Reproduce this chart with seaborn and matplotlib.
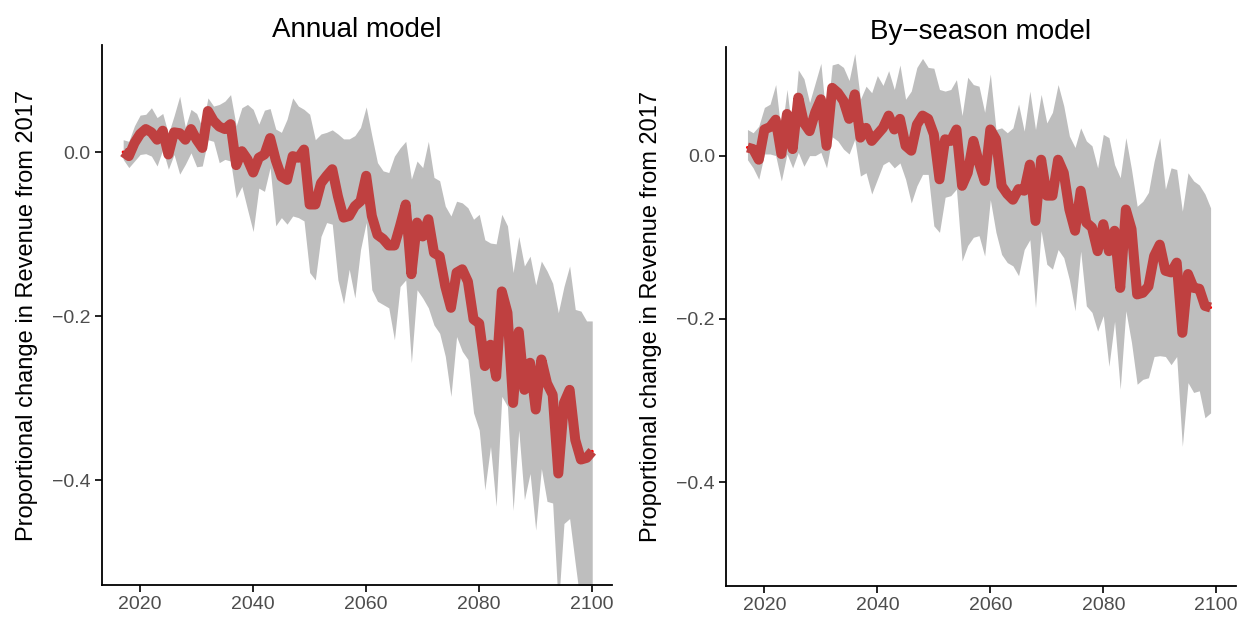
import numpy as np
import pandas as pd
import matplotlib
matplotlib.use("Agg")
import matplotlib.pyplot as plt
import seaborn as sns

# ---------------- data ----------------
years_annual = list(range(2017, 2101))
annual_mean = [
    0.000, -0.005, 0.011, 0.022, 0.028, 0.024, 0.015, 0.026, -0.003, 0.024,
    0.023, 0.015, 0.028, 0.015, 0.005, 0.050, 0.038, 0.031, 0.028, 0.034,
    -0.016, 0.001, -0.009, -0.025, -0.007, -0.003, 0.017, -0.010, -0.030, -0.034,
    -0.005, -0.007, 0.003, -0.064, -0.064, -0.038, -0.029, -0.021, -0.054, -0.080,
    -0.078, -0.066, -0.060, -0.029, -0.078, -0.101, -0.106, -0.114, -0.114, -0.090,
    -0.064, -0.149, -0.086, -0.103, -0.082, -0.123, -0.127, -0.164, -0.190, -0.147,
    -0.143, -0.158, -0.204, -0.209, -0.261, -0.235, -0.274, -0.170, -0.196, -0.306,
    -0.219, -0.290, -0.257, -0.314, -0.253, -0.282, -0.296, -0.392, -0.306, -0.290,
    -0.351, -0.375, -0.373, -0.365,
]
annual_upper = [
    0.015, 0.013, 0.032, 0.045, 0.046, 0.054, 0.042, 0.047, 0.022, 0.044,
    0.068, 0.030, 0.052, 0.047, 0.030, 0.066, 0.056, 0.058, 0.062, 0.070,
    0.032, 0.054, 0.058, 0.052, 0.034, 0.051, 0.053, 0.028, 0.024, 0.040,
    0.066, 0.056, 0.052, 0.046, 0.015, 0.022, 0.024, 0.027, 0.022, 0.016,
    0.016, 0.020, 0.030, 0.055, 0.020, -0.013, -0.023, -0.025, -0.005, 0.005,
    0.013, -0.033, -0.011, -0.019, 0.013, -0.031, -0.035, -0.066, -0.078, -0.060,
    -0.062, -0.068, -0.082, -0.076, -0.107, -0.111, -0.112, -0.076, -0.090, -0.147,
    -0.103, -0.139, -0.127, -0.162, -0.133, -0.145, -0.160, -0.196, -0.164, -0.139,
    -0.192, -0.194, -0.206, -0.206,
]
annual_lower = [
    -0.009, -0.019, -0.011, -0.003, -0.002, -0.005, -0.017, 0.003, -0.021, -0.003,
    -0.027, -0.015, -0.001, -0.018, -0.017, 0.015, 0.013, -0.013, -0.009, -0.011,
    -0.056, -0.042, -0.070, -0.097, -0.044, -0.048, -0.019, -0.090, -0.080, -0.088,
    -0.078, -0.080, -0.084, -0.147, -0.156, -0.103, -0.086, -0.088, -0.156, -0.185,
    -0.143, -0.178, -0.119, -0.086, -0.168, -0.182, -0.186, -0.190, -0.229, -0.164,
    -0.156, -0.257, -0.168, -0.178, -0.190, -0.211, -0.221, -0.249, -0.298, -0.225,
    -0.243, -0.253, -0.318, -0.339, -0.412, -0.359, -0.432, -0.298, -0.310, -0.437,
    -0.339, -0.424, -0.392, -0.461, -0.386, -0.426, -0.428, -0.555, -0.453, -0.447,
    -0.502, -0.555, -0.575, -0.575,
]

years_season = list(range(2017, 2100))
season_mean = [
    0.010, 0.008, -0.005, 0.032, 0.035, 0.044, 0.002, 0.051, 0.008, 0.071,
    0.040, 0.030, 0.053, 0.069, 0.012, 0.083, 0.077, 0.067, 0.045, 0.075,
    0.022, 0.034, 0.018, 0.026, 0.034, 0.049, 0.032, 0.045, 0.012, 0.006,
    0.038, 0.049, 0.045, 0.026, -0.029, 0.020, 0.018, 0.032, -0.037, -0.021,
    0.018, -0.009, -0.031, 0.032, 0.020, -0.037, -0.047, -0.054, -0.041, -0.043,
    -0.011, -0.080, -0.005, -0.049, -0.049, -0.005, -0.021, -0.066, -0.092, -0.043,
    -0.082, -0.088, -0.117, -0.084, -0.117, -0.092, -0.162, -0.066, -0.090, -0.170,
    -0.168, -0.160, -0.123, -0.109, -0.141, -0.143, -0.131, -0.217, -0.145, -0.162,
    -0.163, -0.184, -0.186,
]
season_upper = [
    0.032, 0.028, 0.036, 0.059, 0.063, 0.087, 0.026, 0.081, 0.024, 0.105,
    0.094, 0.065, 0.089, 0.113, 0.040, 0.111, 0.113, 0.108, 0.092, 0.125,
    0.069, 0.085, 0.077, 0.098, 0.086, 0.104, 0.081, 0.111, 0.069, 0.079,
    0.108, 0.119, 0.108, 0.107, 0.081, 0.079, 0.081, 0.093, 0.049, 0.096,
    0.087, 0.085, 0.053, 0.100, 0.032, 0.034, 0.028, 0.034, 0.063, 0.030,
    0.079, 0.032, 0.075, 0.040, 0.053, 0.087, 0.061, 0.024, 0.010, 0.034,
    0.018, 0.012, -0.015, 0.026, 0.022, -0.011, -0.027, 0.022, -0.017, -0.062,
    -0.056, -0.045, -0.007, 0.022, -0.041, -0.015, -0.017, -0.068, -0.021, -0.031,
    -0.036, -0.047, -0.064,
]
season_lower = [
    -0.005, -0.015, -0.029, 0.002, 0.002, -0.000, -0.031, 0.002, -0.015, 0.004,
    -0.013, -0.000, -0.000, 0.004, -0.015, 0.023, 0.018, 0.008, 0.002, 0.020,
    -0.025, -0.021, -0.047, -0.029, -0.011, -0.007, -0.015, -0.009, -0.029, -0.058,
    -0.037, -0.023, -0.023, -0.086, -0.094, -0.051, -0.049, -0.041, -0.129, -0.110,
    -0.100, -0.098, -0.123, -0.054, -0.094, -0.121, -0.131, -0.135, -0.147, -0.115,
    -0.103, -0.186, -0.092, -0.133, -0.139, -0.115, -0.125, -0.152, -0.190, -0.117,
    -0.184, -0.192, -0.215, -0.196, -0.258, -0.203, -0.286, -0.190, -0.229, -0.280,
    -0.274, -0.272, -0.246, -0.245, -0.246, -0.256, -0.246, -0.356, -0.278, -0.290,
    -0.288, -0.321, -0.315,
]

titles = ["Annual model", "By\u2212season model"]
y_label = "Proportional change in Revenue from 2017"
x_ticks = [2020, 2040, 2060, 2080, 2100]
y_ticks = [0.0, -0.2, -0.4]
y_ticklabels = ["0.0", "\u22120.2", "\u22120.4"]

# ---------------- style ----------------
sns.set_theme(style="ticks")
plt.rcParams["font.family"] = ["Liberation Sans", "DejaVu Sans"]
plt.rcParams["axes.linewidth"] = 1.3
plt.rcParams["axes.edgecolor"] = "black"

RIBBON = "#BEBEBE"
THICK = "#BF4040"
THIN = "#FF0000"
TICKCOL = "#4D4D4D"

fig = plt.figure(figsize=(12.47, 6.18), dpi=100)
ax1 = fig.add_axes([101.7 / 1247, 1 - 585 / 618, (612 - 101.7) / 1247, (585 - 45) / 618])
ax2 = fig.add_axes([726 / 1247, 1 - 586 / 618, (1236 - 726) / 1247, (586 - 47) / 618])

panels = [
    (ax1, years_annual, annual_mean, annual_lower, annual_upper, (-0.528, 0.1305)),
    (ax2, years_season, season_mean, season_lower, season_upper, (-0.527, 0.1330)),
]

for i, (ax, yrs, mean, lo, hi, ylim) in enumerate(panels):
    df = pd.DataFrame({"year": yrs, "mean": mean, "lower": lo, "upper": hi})
    ax.fill_between(df["year"], df["lower"], df["upper"], color=RIBBON, lw=0, zorder=1)
    sns.lineplot(data=df, x="year", y="mean", ax=ax, color=THIN, lw=2.2,
                 estimator=None, zorder=2)
    sns.lineplot(data=df, x="year", y="mean", ax=ax, color=THICK, lw=7.2,
                 estimator=None, zorder=3, solid_joinstyle="round",
                 solid_capstyle="butt")
    ax.set_xlim(2013.2, 2103.5)
    ax.set_ylim(*ylim)
    ax.set_xticks(x_ticks)
    ax.set_xticklabels([str(t) for t in x_ticks])
    ax.set_yticks(y_ticks)
    ax.set_yticklabels(y_ticklabels)
    ax.tick_params(axis="both", colors="black", labelcolor=TICKCOL,
                   labelsize=14, length=5, width=1.2, pad=3)
    ax.set_xlabel("")
    ax.set_ylabel(y_label, fontsize=17, color="black", labelpad=10)
    ax.set_title(titles[i], fontsize=20, color="black", pad=6)
    for s in ["top", "right"]:
        ax.spines[s].set_visible(False)
    for s in ["left", "bottom"]:
        ax.spines[s].set_color("black")
    ax.grid(False)

fig.savefig("out.png", dpi=100, facecolor="white")
